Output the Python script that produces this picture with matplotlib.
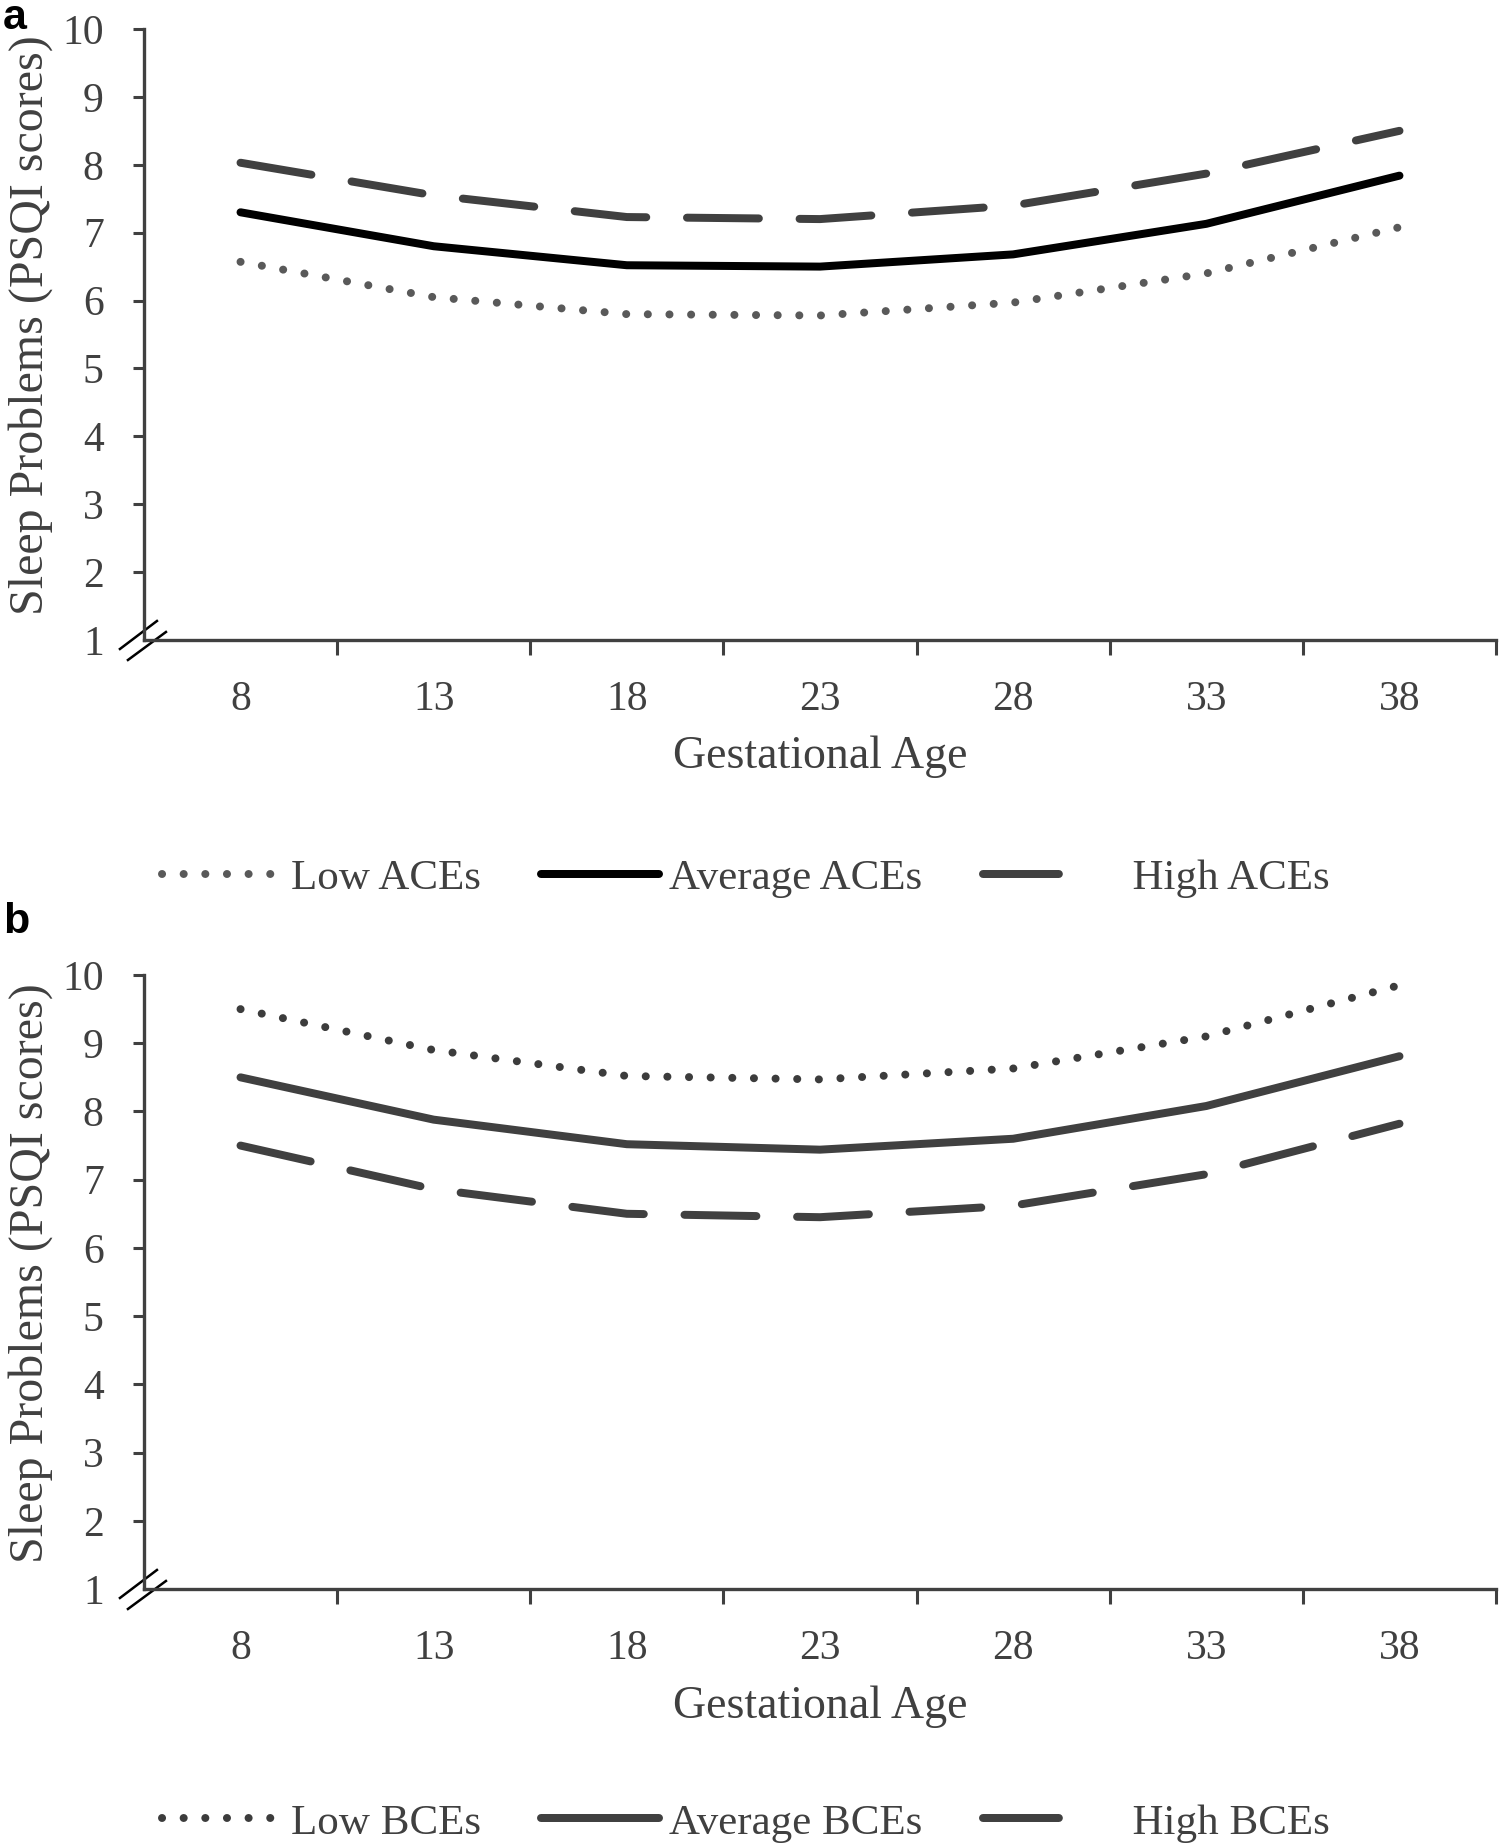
import numpy as np
import matplotlib
matplotlib.use('Agg')
import matplotlib.pyplot as plt
from matplotlib.lines import Line2D
from matplotlib.transforms import ScaledTranslation


weeks = [8, 13, 18, 23, 28, 33, 38]

# panel a: ACEs
aces_low = [6.57, 6.05, 5.80, 5.78, 5.97, 6.40, 7.08]
aces_avg = [7.30, 6.80, 6.52, 6.50, 6.68, 7.13, 7.84]
aces_high = [8.03, 7.55, 7.23, 7.20, 7.40, 7.87, 8.50]

# panel b: BCEs
bces_low = [9.50, 8.90, 8.52, 8.47, 8.63, 9.10, 9.85]
bces_avg = [8.50, 7.88, 7.52, 7.44, 7.60, 8.08, 8.81]
bces_high = [7.50, 6.86, 6.50, 6.45, 6.62, 7.08, 7.82]

y_ticks = list(range(1, 11))

plt.rcParams['font.family'] = ['Liberation Serif', 'DejaVu Serif']
AX_COL = '#404040'
LW = 5.75
DOTS = (0.01, 2.7)
DASH = (9, 5.1)


def draw_panel(fig, rect, low, avg, high, names, colors, legend_y):
    ax = fig.add_axes(rect)
    x = np.arange(len(weeks))
    ax.plot(x, low, color=colors[0], lw=LW, dashes=DOTS,
            dash_capstyle='round', solid_capstyle='round')
    ax.plot(x, avg, color=colors[1], lw=LW, solid_capstyle='round')
    ax.plot(x, high, color=colors[2], lw=LW, dashes=DASH,
            dash_capstyle='round')

    ax.set_xlim(-0.5, len(weeks) - 0.5)
    ax.set_ylim(1, 10)
    for s in ['top', 'right']:
        ax.spines[s].set_visible(False)
    for s in ['left', 'bottom']:
        ax.spines[s].set_color(AX_COL)
        ax.spines[s].set_linewidth(2.4)

    # category axis: ticks between categories, labels at centers
    ax.set_xticks(np.arange(0.5, len(weeks), 1.0))
    ax.set_xticklabels([])
    ax.set_xticks(x, minor=True)
    ax.set_xticklabels([str(w) for w in weeks], minor=True)
    ax.tick_params(axis='x', which='major', direction='out', length=11,
                   width=2.2, color=AX_COL)
    ax.tick_params(axis='x', which='minor', length=0, pad=29,
                   labelsize=30, labelcolor=AX_COL)
    ax.set_yticks(y_ticks)
    ax.tick_params(axis='y', direction='out', length=8, width=2.2,
                   color=AX_COL, pad=21, labelsize=30, labelcolor=AX_COL)
    ax.yaxis.get_major_ticks()[0].tick1line.set_visible(False)

    ax.set_xlabel('Gestational Age', fontsize=33, color=AX_COL)
    ax.xaxis.set_label_coords(0.5, -0.1915)
    ax.xaxis.label.set_va('center')
    ax.set_ylabel('Sleep Problems (PSQI scores)', fontsize=34.5, color=AX_COL)
    ax.yaxis.set_label_coords(-0.084, 0.515)
    ax.yaxis.label.set_va('center')

    # axis break marks
    tr = fig.dpi_scale_trans + ScaledTranslation(0, 0, ax.transAxes)
    for (x0, y0, x1, y1) in [(-0.24, -0.09, 0.13, 0.19),
                             (-0.16, -0.20, 0.22, 0.08)]:
        ax.add_line(Line2D([x0, x1], [y0, y1], transform=tr, color='black',
                           lw=1.8, clip_on=False))

    # legend proxies (single dash shown for the dashed entry)
    handles = [
        Line2D([], [], color=colors[0], lw=LW, dashes=DOTS,
               dash_capstyle='round'),
        Line2D([], [], color=colors[1], lw=LW, solid_capstyle='round'),
        Line2D([], [], color=colors[2], lw=LW, dashes=(9.5, 8),
               dash_capstyle='round'),
    ]
    labels = [names[0], names[1], '  ' + names[2]]
    fig.legend(handles, labels, loc='center', bbox_to_anchor=(0.497, legend_y),
               ncol=3, frameon=False, fontsize=31, handlelength=2.75,
               handletextpad=0.23, columnspacing=1.4, labelcolor=AX_COL)
    return ax


def main():
    fig = plt.figure(figsize=(15.01, 18.47), dpi=100)

    draw_panel(fig, [0.0959, 0.6535, 0.9008, 0.3308],
               aces_low, aces_avg, aces_high,
               ['Low ACEs', 'Average ACEs', 'High ACEs'],
               ['#595959', '#000000', '#404040'], 0.5246)
    draw_panel(fig, [0.0959, 0.1397, 0.9008, 0.3324],
               bces_low, bces_avg, bces_high,
               ['Low BCEs', 'Average BCEs', 'High BCEs'],
               ['#3c3c3c', '#404040', '#404040'], 0.0130)

    fig.text(0.002, 1 - 29 / 1847, 'a', fontsize=31, fontweight='bold',
             family='Liberation Sans', va='baseline', ha='left')
    fig.text(0.002, 1 - 933 / 1847, 'b', fontsize=31, fontweight='bold',
             family='Liberation Sans', va='baseline', ha='left')

    fig.savefig('out.png', dpi=100)


if __name__ == '__main__':
    main()
